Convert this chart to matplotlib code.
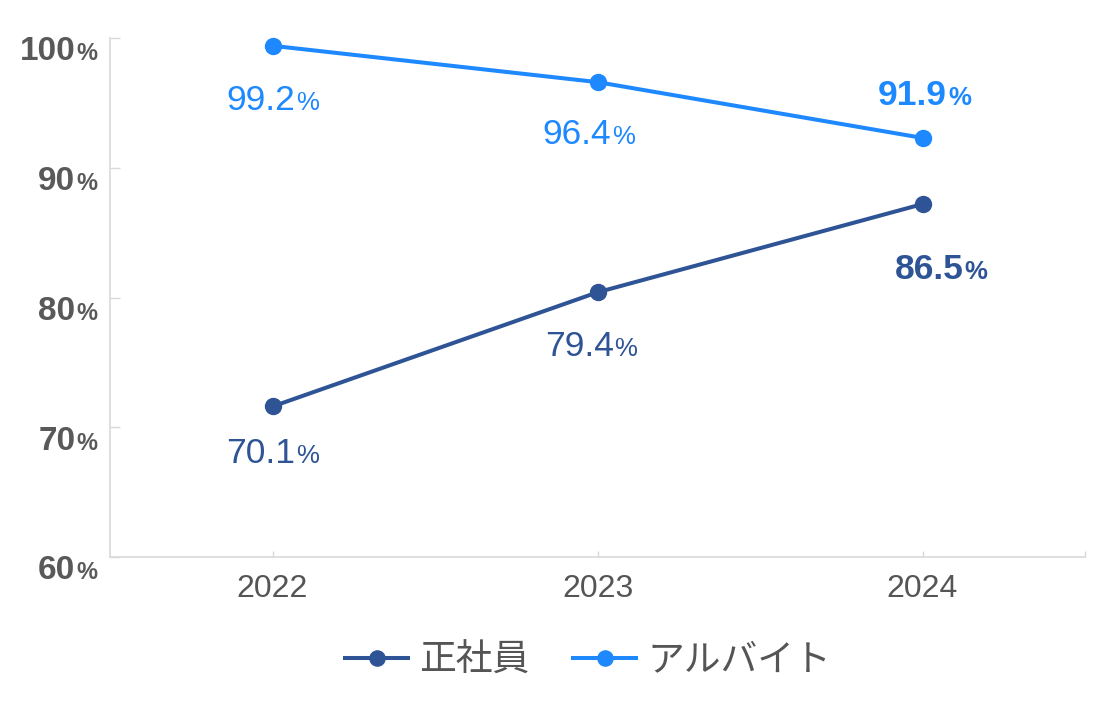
import matplotlib
matplotlib.use('Agg')
import matplotlib.pyplot as plt
from matplotlib.offsetbox import TextArea, HPacker, AnnotationBbox
from matplotlib.font_manager import FontProperties

# ---- data ----
years = ['2022', '2023', '2024']
series_names = ['正社員', 'アルバイト']
seishain = [71.6, 80.4, 87.2]          # plotted point positions
arubaito = [99.4, 96.6, 92.3]
seishain_labels = ['70.1', '79.4', '86.5']
arubaito_labels = ['99.2', '96.4', '91.9']
yticks = [60, 70, 80, 90, 100]

DARK = '#2E5496'
LIGHT = '#1E88FF'
GRAY = '#555555'
AXC = '#D9D9D9'
NUMFONT = 'Liberation Sans'

fig = plt.figure(figsize=(11.19, 7.10), dpi=100)
ax = fig.add_axes([110/1119, 1-557/710, (1085-110)/1119, (557-38)/710])

x = list(range(len(years)))
ax.plot(x, seishain, color=DARK, lw=2.9, marker='o', ms=11.5, clip_on=False, zorder=3,
        label=series_names[0])
ax.plot(x, arubaito, color=LIGHT, lw=2.9, marker='o', ms=11.5, clip_on=False, zorder=3,
        label=series_names[1])

ax.set_xlim(-0.5, 2.5)
ax.set_ylim(60, 100)
for s in ['top', 'right']:
    ax.spines[s].set_visible(False)
for s in ['left', 'bottom']:
    ax.spines[s].set_color(AXC)
    ax.spines[s].set_linewidth(1.2)

ax.set_xticks(x)
ax.set_xticklabels(years, fontsize=23, color=GRAY, family=NUMFONT)
ax.set_xticks([2.5], minor=True)
ax.tick_params(axis='x', which='both', direction='in', length=4.5, width=1, color=AXC, pad=12)
ax.set_yticks(yticks)
ax.set_yticklabels([''] * len(yticks))
ax.tick_params(axis='y', direction='in', length=7, width=1, color=AXC)

def pct_box(num, size, psize, color, weight):
    a = TextArea(num, textprops=dict(fontsize=size, color=color, fontweight=weight, family=NUMFONT))
    b = TextArea('%', textprops=dict(fontsize=psize, color=color, fontweight=weight, family=NUMFONT))
    return HPacker(children=[a, b], align='baseline', pad=0, sep=0.5)

# y tick labels
for v in yticks:
    box = pct_box(str(v), 24, 17, '#595959', 'bold')
    ab = AnnotationBbox(box, (0, v), xycoords=ax.get_yaxis_transform(), xybox=(-13, -14),
                        boxcoords='offset pixels', box_alignment=(1, 0.5), frameon=False,
                        pad=0, annotation_clip=False)
    ax.add_artist(ab)

# data labels: (dx, dy) offsets in pixels and bold flags
s_off = [(0, -47.5), (-6.5, -54.5), (19, -65.5)]
a_off = [(0, -55), (-8.7, -52), (2, 42.5)]
s_bold = [False, False, True]
a_bold = [False, False, True]

for i in range(len(years)):
    for vals, labs, offs, bolds, col in [(seishain, seishain_labels, s_off, s_bold, DARK),
                                         (arubaito, arubaito_labels, a_off, a_bold, LIGHT)]:
        w = 'bold' if bolds[i] else 'normal'
        box = pct_box(labs[i], 25.5, 18.5, col, w)
        ab = AnnotationBbox(box, (x[i], vals[i]), xycoords='data', xybox=offs[i],
                            boxcoords='offset pixels', box_alignment=(0.5, 0.5), frameon=False,
                            pad=0, annotation_clip=False)
        ax.add_artist(ab)

leg = fig.legend(loc='center', bbox_to_anchor=(588/1119, 1-660/710), ncol=2, frameon=False,
                 prop=FontProperties(family=['Noto Sans CJK JP', 'DejaVu Sans'], size=26.5),
                 handlelength=1.7, handletextpad=0.3, columnspacing=1.2, borderpad=0,
                 markerscale=0.95)
for t in leg.get_texts():
    t.set_color(GRAY)

fig.savefig('out.png', dpi=100)
